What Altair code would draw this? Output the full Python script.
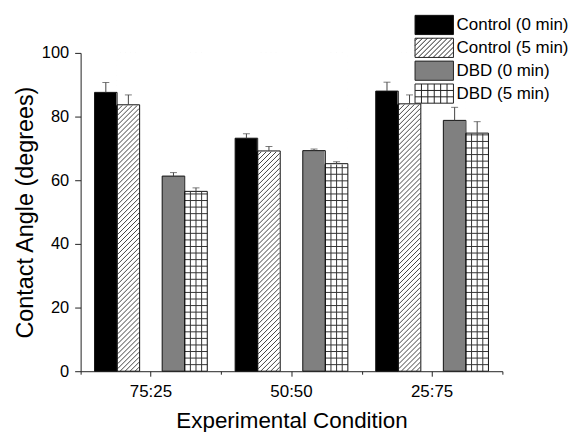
import altair as alt
import pandas as pd

# ---------------- data ----------------
conditions = ["75:25", "50:50", "25:75"]
series = ["Control (0 min)", "Control (5 min)", "DBD (0 min)", "DBD (5 min)"]
control_0 = [87.6, 73.2, 88.0]
control_5 = [83.7, 69.2, 84.0]
dbd_0 = [61.3, 69.3, 78.8]
dbd_5 = [56.5, 65.2, 74.8]
err_control_0 = [3.1, 1.4, 2.8]
err_control_5 = [3.1, 1.4, 2.8]
err_dbd_0 = [1.1, 0.5, 4.1]
err_dbd_5 = [1.1, 0.6, 3.6]

values = [control_0, control_5, dbd_0, dbd_5]
errors = [err_control_0, err_control_5, err_dbd_0, err_dbd_5]
rows = []
for s, vals, errs in zip(series, values, errors):
    for c, v, e in zip(conditions, vals, errs):
        rows.append({"cond": c, "series": s, "value": v, "err": e})
df = pd.DataFrame(rows)

FONT = "Liberation Sans"
slot_domain = [series[0], series[1], " ", series[2], series[3]]

# ---------------- pattern paths (style only) ----------------
def diag_path(hw, hh, s, unit):
    segs = []
    c = -hw - hh + s / 2
    while c < hw + hh:
        x0 = max(-hw, c - hh)
        x1 = min(hw, c + hh)
        if x1 > x0:
            segs.append("M%.4f,%.4fL%.4f,%.4f" % (x0 / unit, (c - x0) / unit, x1 / unit, (c - x1) / unit))
        c += s
    return "".join(segs)


def grid_path(hw, hh, ncols, sy, unit):
    segs = []
    for k in range(1, ncols):
        x = -hw + k * 2 * hw / ncols
        segs.append("M%.4f,%.4fL%.4f,%.4f" % (x / unit, -hh / unit, x / unit, hh / unit))
    y = hh - sy
    while y > -hh + 0.5:
        segs.append("M%.4f,%.4fL%.4f,%.4f" % (-hw / unit, y / unit, hw / unit, y / unit))
        y -= sy
    return "".join(segs)


PLOT_W, PLOT_H = 424, 320
R_BIG = PLOT_H / 2.0
BIG_SIZE = (2 * R_BIG) ** 2
diag_big = diag_path(10.8, R_BIG, 5.0, R_BIG)
grid_big = grid_path(11.3, R_BIG, 4, 6.6, R_BIG)

R_LEG = 9.65
LEG_SIZE = (2 * R_LEG) ** 2
rect = "M-2,-1L2,-1L2,1L-2,1Z"
leg_paths = [
    rect,
    rect + diag_path(2 * R_LEG, R_LEG, 5.0, R_LEG),
    rect,
    rect + grid_path(2 * R_LEG, R_LEG, 6, 6.4, R_LEG),
]

# ---------------- encodings ----------------
x_enc = alt.X(
    "cond:N",
    sort=conditions,
    scale=alt.Scale(domain=conditions, paddingInner=0, paddingOuter=0),
    axis=alt.Axis(
        title="Experimental Condition",
        labelAngle=0,
        tickSize=5,
        labelFontSize=17,
        labelFont=FONT,
        labelColor="black",
        labelPadding=7,
        titleFont=FONT,
        titleFontSize=22.5,
        titleFontWeight="normal",
        titleColor="black",
        titlePadding=11,
        domainColor="#222",
        tickColor="#222",
    ),
)
xo_enc = alt.XOffset(
    "series:N",
    scale=alt.Scale(domain=slot_domain, paddingInner=0, paddingOuter=0.618),
)
y_scale = alt.Scale(domain=[0, 100], nice=False)
y_enc = alt.Y(
    "value:Q",
    scale=y_scale,
    axis=alt.Axis(
        title="Contact Angle (degrees)",
        values=list(range(0, 101, 10)),
        labelExpr="datum.value % 20 === 0 ? datum.label : ''",
        tickSize={"condition": {"test": "datum.value % 20 === 0", "value": 6}, "value": 3},
        labelFontSize=16.5,
        labelFont=FONT,
        labelColor="black",
        labelPadding=6,
        titleFont=FONT,
        titleFontSize=23.5,
        titleFontWeight="normal",
        titleColor="black",
        titlePadding=4,
        domainColor="#222",
        tickColor="#222",
        grid=False,
    ),
)

base = alt.Chart(df)

# bar fills (colour scale over the 5 slots so it does not merge with the legend)
bars = base.mark_bar().encode(
    x=x_enc,
    xOffset=xo_enc,
    y=y_enc,
    color=alt.Color(
        "series:N",
        scale=alt.Scale(
            domain=slot_domain,
            range=["#000000", "#ffffff", "#ffffff", "#808080", "#ffffff"],
        ),
        legend=None,
    ),
)

hatch_diag = base.transform_filter(alt.datum.series == series[1]).mark_point(
    shape=diag_big, size=BIG_SIZE, filled=False, stroke="#444", strokeWidth=1, opacity=1
).encode(x=x_enc, xOffset=xo_enc, y=alt.datum(50))

hatch_grid = base.transform_filter(alt.datum.series == series[3]).mark_point(
    shape=grid_big, size=BIG_SIZE, filled=False, stroke="#333", strokeWidth=1, opacity=1
).encode(x=x_enc, xOffset=xo_enc, y=alt.datum(50))

cover = base.transform_filter(
    (alt.datum.series == series[1]) | (alt.datum.series == series[3])
).mark_bar(color="white", stroke="white", strokeWidth=1.5).encode(
    x=x_enc, xOffset=xo_enc, y=alt.Y("value:Q"), y2=alt.datum(100)
)

outline = base.mark_bar(filled=False, color="#111", strokeWidth=1).encode(
    x=x_enc, xOffset=xo_enc, y=alt.Y("value:Q")
)

err_base = base.transform_calculate(top="datum.value + datum.err")
err_rule = err_base.mark_rule(color="#444", strokeWidth=1).encode(
    x=x_enc, xOffset=xo_enc, y=alt.Y("value:Q"), y2="top:Q"
)
err_cap = err_base.mark_tick(color="#444", thickness=1, size=7).encode(
    x=x_enc, xOffset=xo_enc, y=alt.Y("top:Q")
)

leg = alt.Legend(
    title=None,
    orient="none",
    legendX=345,
    legendY=-38.6,
    labelFont=FONT,
    labelFontSize=17,
    labelColor="black",
    symbolSize=LEG_SIZE,
    symbolStrokeColor="#222",
    symbolStrokeWidth=1,
    symbolOpacity=1,
    rowPadding=-4.3,
    labelOffset=12.0,
    padding=0,
    labelLimit=300,
)
legend_layer = base.mark_point(
    opacity=0, size=LEG_SIZE, filled=True, strokeWidth=1
).encode(
    x=x_enc,
    xOffset=xo_enc,
    y=alt.Y("value:Q"),
    fill=alt.Fill(
        "series:N",
        scale=alt.Scale(domain=series, range=["#000000", "#ffffff", "#808080", "#ffffff"]),
        legend=leg,
    ),
    stroke=alt.Stroke(
        "series:N",
        scale=alt.Scale(domain=series, range=["#111111", "#222222", "#222222", "#222222"]),
        legend=leg,
    ),
    shape=alt.Shape("series:N", scale=alt.Scale(domain=series, range=leg_paths), legend=leg),
)

main = alt.layer(bars, hatch_diag, hatch_grid, cover, outline, err_rule, err_cap, legend_layer)

tick_layer = alt.Chart(pd.DataFrame({"cond": conditions})).mark_point(opacity=0).encode(
    x=alt.X(
        "cond:N",
        sort=conditions,
        scale=alt.Scale(domain=conditions, paddingInner=0, paddingOuter=0),
        axis=alt.Axis(
            orient="bottom",
            tickBand="extent",
            labels=False,
            title=None,
            domain=False,
            tickSize=3,
            tickColor="#222",
        ),
    )
)

chart = (
    alt.layer(main, tick_layer)
    .resolve_scale(x="independent")
    .properties(width=PLOT_W, height=PLOT_H, background="white")
    .configure_view(stroke=None)
)

chart.save("out.html", embed_options={"renderer": "svg", "actions": False})
